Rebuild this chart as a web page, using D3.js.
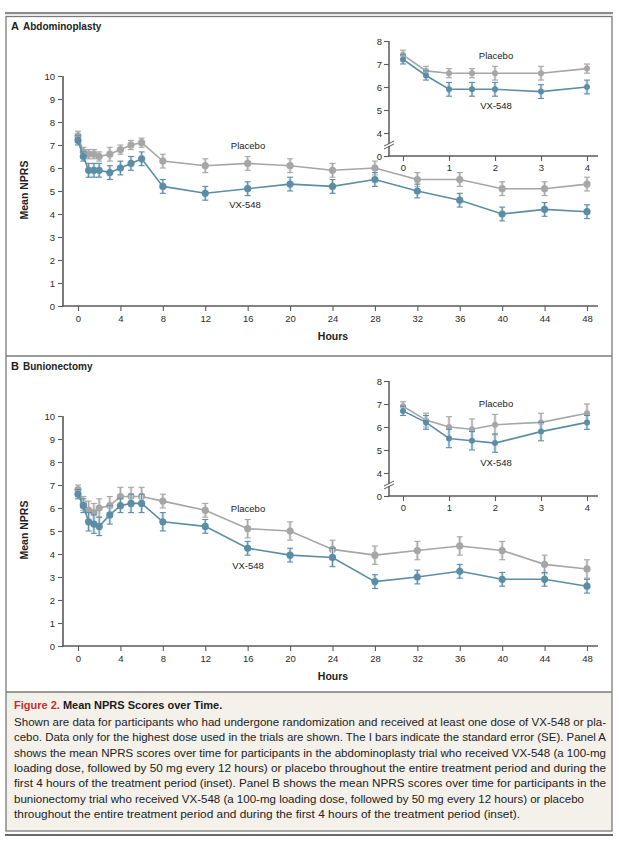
<!DOCTYPE html>
<html><head><meta charset="utf-8">
<script src="https://cdn.jsdelivr.net/npm/d3@7"></script>
<style>
body{margin:0;background:#fff;}
svg text{font-family:"Liberation Sans",Arial,sans-serif;}
</style></head>
<body><svg id="c" width="620" height="842"></svg>
<script>
// ---------- DATA ----------
const hoursMain = [0,0.5,1,1.5,2,3,4,5,6,8,12,16,20,24,28,32,36,40,44,48];
const hoursInset = [0,0.5,1,1.5,2,3,4];
const xTicksMain = [0,4,8,12,16,20,24,28,32,36,40,44,48];
const yTicksMain = [0,1,2,3,4,5,6,7,8,9,10];
const xTicksInset = [0,1,2,3,4];
const yTicksInset = [4,5,6,7,8];

const aPlacebo   = [7.4,6.7,6.6,6.6,6.5,6.6,6.8,7.0,7.1,6.3,6.1,6.2,6.1,5.9,6.0,5.5,5.5,5.1,5.1,5.3];
const aPlaceboSE = [0.2,0.2,0.2,0.2,0.2,0.3,0.2,0.2,0.2,0.3,0.3,0.3,0.3,0.3,0.3,0.3,0.3,0.3,0.3,0.3];
const aVX        = [7.2,6.5,5.9,5.9,5.9,5.8,6.0,6.2,6.4,5.2,4.9,5.1,5.3,5.2,5.5,5.0,4.6,4.0,4.2,4.1];
const aVXSE      = [0.2,0.2,0.3,0.3,0.3,0.3,0.3,0.3,0.3,0.3,0.3,0.3,0.3,0.3,0.3,0.3,0.3,0.3,0.3,0.3];

const bPlacebo   = [6.8,6.2,5.9,5.8,6.0,6.1,6.5,6.5,6.5,6.3,5.9,5.1,5.0,4.2,3.95,4.15,4.35,4.15,3.55,3.35];
const bPlaceboSE = [0.2,0.3,0.4,0.4,0.4,0.4,0.4,0.4,0.4,0.3,0.3,0.4,0.4,0.4,0.4,0.4,0.4,0.4,0.4,0.4];
const bVX        = [6.6,6.1,5.4,5.3,5.2,5.7,6.1,6.2,6.2,5.4,5.2,4.25,3.95,3.85,2.8,3.0,3.25,2.9,2.9,2.6];
const bVXSE      = [0.2,0.3,0.4,0.4,0.4,0.4,0.3,0.4,0.4,0.4,0.3,0.3,0.3,0.4,0.3,0.3,0.3,0.3,0.3,0.3];

const aInPlacebo   = [7.4,6.7,6.6,6.6,6.6,6.6,6.8];
const aInPlaceboSE = [0.2,0.2,0.2,0.2,0.3,0.3,0.2];
const aInVX        = [7.2,6.5,5.9,5.9,5.9,5.8,6.0];
const aInVXSE      = [0.2,0.2,0.3,0.3,0.3,0.3,0.3];

const bInPlacebo   = [6.9,6.3,6.0,5.9,6.1,6.2,6.6];
const bInPlaceboSE = [0.2,0.3,0.45,0.45,0.45,0.4,0.4];
const bInVX        = [6.7,6.2,5.5,5.4,5.3,5.8,6.2];
const bInVXSE      = [0.2,0.3,0.4,0.4,0.4,0.4,0.3];

const captionTitleRed = "Figure 2.";
const captionTitle = "Mean NPRS Scores over Time.";
const captionLines = [
 "Shown are data for participants who had undergone randomization and received at least one dose of VX-548 or pla-",
 "cebo. Data only for the highest dose used in the trials are shown. The I bars indicate the standard error (SE). Panel A",
 "shows the mean NPRS scores over time for participants in the abdominoplasty trial who received VX-548 (a 100-mg",
 "loading dose, followed by 50 mg every 12 hours) or placebo throughout the entire treatment period and during the",
 "first 4 hours of the treatment period (inset). Panel B shows the mean NPRS scores over time for participants in the",
 "bunionectomy trial who received VX-548 (a 100-mg loading dose, followed by 50 mg every 12 hours) or placebo",
 "throughout the entire treatment period and during the first 4 hours of the treatment period (inset)."
];

// ---------- STYLE ----------
const BLUE = "#5b8ea6", BLUE_HALO = "#cfe0e8";
const GRAY = "#a6a6a6", GRAY_HALO = "#dedede";
const AX = "#5a5a5a";
const fmt = d3.format("d");

const svg = d3.select("#c");

// frame
svg.append("rect").attr("x",5).attr("y",12).attr("width",608).attr("height",2.2).attr("fill","#8a8a8a");
svg.append("rect").attr("x",6).attr("y",692).attr("width",606).attr("height",139).attr("fill","#f4f1ea");
svg.append("rect").attr("x",6).attr("y",16.5).attr("width",606).attr("height",814.5)
   .attr("fill","none").attr("stroke","#7a7a7a").attr("stroke-width",1.3);
svg.append("line").attr("x1",6).attr("x2",612).attr("y1",356).attr("y2",356).attr("stroke","#7a7a7a").attr("stroke-width",1.3);
svg.append("line").attr("x1",6).attr("x2",612).attr("y1",692).attr("y2",692).attr("stroke","#7a7a7a").attr("stroke-width",1.3);
svg.append("rect").attr("x",5).attr("y",834).attr("width",608).attr("height",2).attr("fill","#6a6a6a");

function styleAxis(g){
  g.selectAll("path.domain").remove();
  g.selectAll(".tick line").attr("stroke",AX).attr("stroke-width",1.1);
  g.selectAll(".tick text").attr("fill","#2a2a2a").style("font-size","9.5px")
    .style("font-family","'Liberation Sans',Arial,sans-serif");
}

function drawSeries(g, xs, vals, ses, x, y, color, halo, r, cap){
  const pts = xs.map((h,i)=>({h, v:vals[i], se:ses[i]}));
  const eb = g.append("g");
  eb.selectAll("line.h").data(pts).join("line")
    .attr("x1",d=>x(d.h)).attr("x2",d=>x(d.h))
    .attr("y1",d=>y(d.v-d.se)).attr("y2",d=>y(d.v+d.se))
    .attr("stroke",halo).attr("stroke-width",3);
  eb.selectAll("line.v").data(pts).join("line")
    .attr("x1",d=>x(d.h)).attr("x2",d=>x(d.h))
    .attr("y1",d=>y(d.v-d.se)).attr("y2",d=>y(d.v+d.se))
    .attr("stroke",color).attr("stroke-width",1.1);
  [1,-1].forEach(s=>{
    eb.selectAll(null).data(pts).join("line")
      .attr("x1",d=>x(d.h)-cap).attr("x2",d=>x(d.h)+cap)
      .attr("y1",d=>y(d.v+s*d.se)).attr("y2",d=>y(d.v+s*d.se))
      .attr("stroke",color).attr("stroke-width",1.1);
  });
  g.append("path").datum(pts)
    .attr("d", d3.line().x(d=>x(d.h)).y(d=>y(d.v)))
    .attr("fill","none").attr("stroke",color).attr("stroke-width",1.6);
  g.append("g").selectAll("circle").data(pts).join("circle")
    .attr("cx",d=>x(d.h)).attr("cy",d=>y(d.v)).attr("r",r).attr("fill",color);
}

function label(g, txt, x, y, opts={}){
  return g.append("text").attr("x",x).attr("y",y).text(txt)
    .attr("text-anchor",opts.anchor||"middle")
    .attr("fill",opts.fill||"#222")
    .style("font-size",(opts.size||9.5)+"px")
    .style("font-weight",opts.bold?"bold":"normal");
}

function panel(off, letter, name, plc, plcSE, vx, vxSE, inPlc, inPlcSE, inVX, inVXSE, lbl){
  const g = svg.append("g");
  label(g, letter, 11, 30+off, {anchor:"start", bold:true, size:11});
  label(g, name, 23, 30+off, {anchor:"start", bold:true, size:10});
  g.append("text").attr("transform",`translate(28,${190+off}) rotate(-90)`)
    .attr("text-anchor","middle").text("Mean NPRS")
    .style("font-size","10.5px").style("font-weight","bold").attr("fill","#222");

  const x = d3.scaleLinear().domain([0,48]).range([78,587]);
  const y = d3.scaleLinear().domain([0,10]).range([306+off,76+off]);

  const gy = g.append("g").attr("transform","translate(63,0)")
    .call(d3.axisLeft(y).tickValues(yTicksMain).tickFormat(fmt).tickSize(5).tickPadding(3));
  styleAxis(gy);
  g.append("line").attr("x1",63).attr("x2",63).attr("y1",y(0)).attr("y2",y(10))
    .attr("stroke","#7a7a7a").attr("stroke-width",2);
  const gx = g.append("g").attr("transform",`translate(0,${306+off})`)
    .call(d3.axisBottom(x).tickValues(xTicksMain).tickFormat(fmt).tickSize(5).tickPadding(4));
  styleAxis(gx);
  g.append("line").attr("x1",62).attr("x2",598).attr("y1",y(0)).attr("y2",y(0))
    .attr("stroke",AX).attr("stroke-width",1.5);
  label(g,"Hours",333,340+off,{bold:true,size:10.5});

  drawSeries(g, hoursMain, plc, plcSE, x, y, GRAY, GRAY_HALO, 3.6, 3);
  drawSeries(g, hoursMain, vx, vxSE, x, y, BLUE, BLUE_HALO, 3.6, 3);
  label(g,"Placebo",lbl[0],lbl[1]+off);
  label(g,"VX-548",lbl[2],lbl[3]+off);

  // inset
  const xi = d3.scaleLinear().domain([0,4]).range([403,587]);
  const yi = d3.scaleLinear().domain([3,8]).range([156+off,41+off]);
  const giy = g.append("g").attr("transform","translate(389,0)")
    .call(d3.axisLeft(yi).tickValues([3].concat(yTicksInset)).tickSize(5).tickPadding(2)
      .tickFormat(d=>d===3?"0":fmt(d)));
  styleAxis(giy);
  g.append("line").attr("x1",389).attr("x2",389).attr("y1",yi(3)).attr("y2",yi(8))
    .attr("stroke",AX).attr("stroke-width",1.5);
  const gix = g.append("g").attr("transform",`translate(0,${156+off})`)
    .call(d3.axisBottom(xi).tickValues(xTicksInset).tickFormat(fmt).tickSize(5).tickPadding(3));
  styleAxis(gix);
  g.append("line").attr("x1",388).attr("x2",598).attr("y1",yi(3)).attr("y2",yi(3))
    .attr("stroke",AX).attr("stroke-width",1.5);
  const by = yi(3.5);
  g.append("polygon").attr("points",`${384},${by+2} ${394},${by-3} ${394},${by-1} ${384},${by+4}`)
    .attr("fill","#fff");
  g.append("line").attr("x1",384).attr("x2",394).attr("y1",by+1.5).attr("y2",by-3.5).attr("stroke",AX).attr("stroke-width",1);
  g.append("line").attr("x1",384).attr("x2",394).attr("y1",by+4.5).attr("y2",by-0.5).attr("stroke",AX).attr("stroke-width",1);

  drawSeries(g, hoursInset, inPlc, inPlcSE, xi, yi, GRAY, GRAY_HALO, 3, 3);
  drawSeries(g, hoursInset, inVX, inVXSE, xi, yi, BLUE, BLUE_HALO, 3, 3);
  label(g,"Placebo",496,lbl[4]+off);
  label(g,"VX-548",496,lbl[5]+off);
}

panel(0,"A","Abdominoplasty",aPlacebo,aPlaceboSE,aVX,aVXSE,aInPlacebo,aInPlaceboSE,aInVX,aInVXSE,
      [248,149,245,208,59,109]);
panel(340,"B","Bunionectomy",bPlacebo,bPlaceboSE,bVX,bVXSE,bInPlacebo,bInPlaceboSE,bInVX,bInVXSE,
      [248,172,248,229,67,126]);

// caption
const ct = svg.append("text").attr("x",14).attr("y",709).style("font-size","11px").style("font-weight","bold");
ct.append("tspan").text(captionTitleRed+" ").attr("fill","#c4302b");
ct.append("tspan").text(captionTitle).attr("fill","#1a1a1a");
const lens = [592,592,592,592,592,570,506];
captionLines.forEach((t,i)=>{
  svg.append("text").attr("x",14).attr("y",726+i*15.3).text(t)
    .attr("textLength",lens[i]).attr("lengthAdjust","spacingAndGlyphs")
    .style("font-size","10.6px").attr("fill","#222");
});
</script></body></html>
